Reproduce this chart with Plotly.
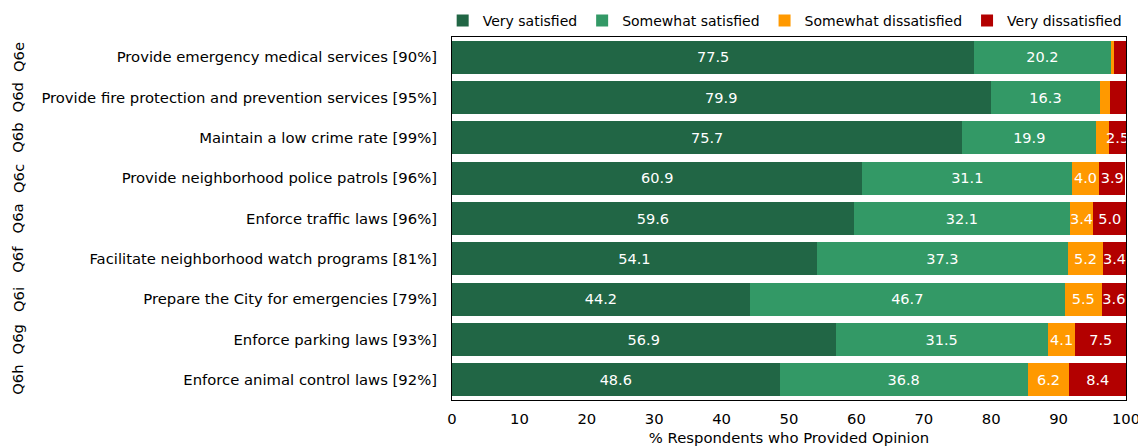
import plotly.graph_objects as go

codes = ["Q6e", "Q6d", "Q6b", "Q6c", "Q6a", "Q6f", "Q6i", "Q6g", "Q6h"]
labels = [
    "Provide emergency medical services [90%]",
    "Provide fire protection and prevention services [95%]",
    "Maintain a low crime rate [99%]",
    "Provide neighborhood police patrols [96%]",
    "Enforce traffic laws [96%]",
    "Facilitate neighborhood watch programs [81%]",
    "Prepare the City for emergencies [79%]",
    "Enforce parking laws [93%]",
    "Enforce animal control laws [92%]",
]
very_satisfied = [77.5, 79.9, 75.7, 60.9, 59.6, 54.1, 44.2, 56.9, 48.6]
somewhat_satisfied = [20.2, 16.3, 19.9, 31.1, 32.1, 37.3, 46.7, 31.5, 36.8]
somewhat_dissatisfied = [0.5, 1.4, 1.9, 4.0, 3.4, 5.2, 5.5, 4.1, 6.2]
very_dissatisfied = [1.8, 2.4, 2.5, 3.9, 5.0, 3.4, 3.6, 7.5, 8.4]

series_names = ["Very satisfied", "Somewhat satisfied", "Somewhat dissatisfied", "Very dissatisfied"]
series_values = [very_satisfied, somewhat_satisfied, somewhat_dissatisfied, very_dissatisfied]
colors = ["#216645", "#339966", "#FF9900", "#B30000"]
x_ticks = [0, 10, 20, 30, 40, 50, 60, 70, 80, 90, 100]

FONT = "DejaVu Sans"
FS = 14.8

fig = go.Figure()
for name, vals, col in zip(series_names, series_values, colors):
    txt = [f"{v:.1f}" if v >= 2.5 else "" for v in vals]
    fig.add_trace(go.Bar(
        y=labels, x=vals, name=name, orientation="h",
        marker=dict(color=col, line=dict(width=0)),
        text=txt, textposition="inside", insidetextanchor="middle",
        textangle=0, constraintext="none",
        textfont=dict(color="white", size=14.5, family=FONT),
        cliponaxis=True, hoverinfo="x+name",
    ))

for c, lab in zip(codes, labels):
    fig.add_annotation(
        x=-0.644, xref="paper", y=lab, yref="y", text=c, textangle=-90,
        showarrow=False, xanchor="center", yanchor="middle",
        font=dict(size=FS, family=FONT, color="black"),
    )

fig.update_layout(
    barmode="stack", bargap=0.18,
    width=1138, height=446,
    margin=dict(l=452, r=12, t=37, b=46, autoexpand=False),
    paper_bgcolor="white", plot_bgcolor="white",
    font=dict(family=FONT, size=FS, color="black"),
    legend=dict(orientation="h", x=1.001, xanchor="right", y=1.0, yanchor="bottom",
                font=dict(size=14, family=FONT), itemwidth=30,
                traceorder="normal", bgcolor="rgba(0,0,0,0)"),
    showlegend=True,
)
fig.update_xaxes(
    range=[0, 100], tickvals=x_ticks, ticktext=[str(t) for t in x_ticks],
    showgrid=False, zeroline=False, showline=True, linecolor="black", linewidth=1,
    mirror=True, ticks="", ticklabelstandoff=5, ticklabeloverflow="allow",
    automargin=False,
    title=dict(text="% Respondents who Provided Opinion", standoff=6,
               font=dict(size=FS, family=FONT)),
    tickfont=dict(size=FS, family=FONT),
)
fig.update_yaxes(
    categoryorder="array", categoryarray=labels, autorange="reversed",
    showgrid=False, showline=True, linecolor="black", linewidth=1, mirror=True,
    automargin=False,
    ticks="", ticklabelstandoff=11, tickfont=dict(size=FS, family=FONT),
)

fig.write_html("out.html")
